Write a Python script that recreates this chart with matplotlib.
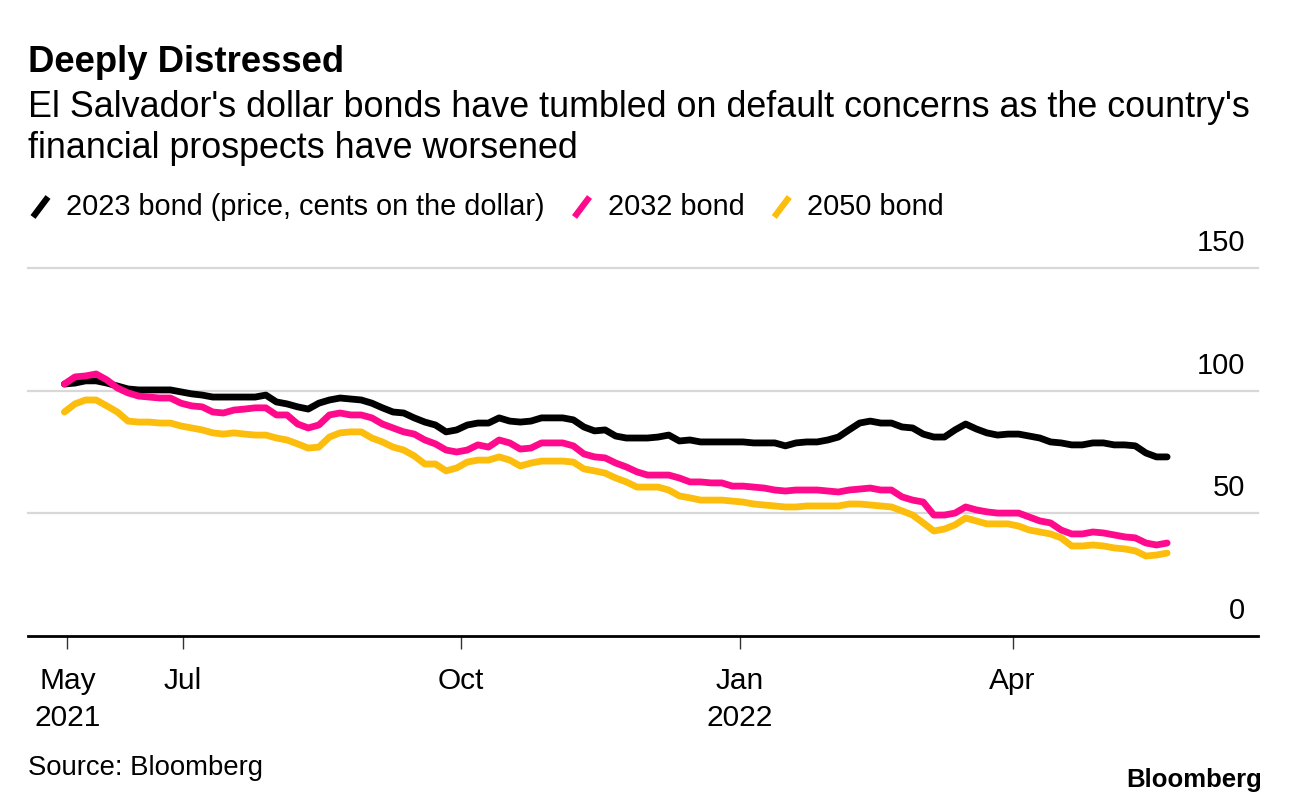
import matplotlib
matplotlib.use("Agg")
import matplotlib.pyplot as plt
from matplotlib.lines import Line2D
import pandas as pd

plt.rcParams['font.family'] = ['Liberation Sans', 'DejaVu Sans']

# twice-weekly readings, cents on the dollar
dates = pd.date_range('2021-05-23', periods=105, freq='84h')
bond_2023 = [102.7, 103.1, 104.0, 104.0, 103.1, 101.9, 100.7, 100.3, 100.3, 100.3,
             100.3, 99.5, 98.7, 98.2, 97.4, 97.4, 97.4, 97.4, 97.4, 98.2,
             95.4, 94.6, 93.4, 92.5, 94.9, 96.2, 97.0, 96.6, 96.2, 94.9,
             93.0, 91.3, 90.9, 88.9, 87.2, 86.0, 83.2, 84.0, 86.0, 86.8,
             86.8, 88.9, 87.6, 87.2, 87.6, 88.9, 88.9, 88.9, 88.1, 85.2,
             83.6, 84.0, 81.5, 80.7, 80.7, 80.7, 81.1, 81.9, 79.5, 79.9,
             79.1, 79.1, 79.1, 79.1, 79.1, 78.7, 78.7, 78.7, 77.5, 78.7,
             79.1, 79.1, 79.9, 81.1, 84.0, 86.8, 87.6, 86.8, 86.8, 85.2,
             84.8, 82.3, 81.1, 81.1, 84.0, 86.4, 84.4, 82.8, 81.9, 82.3,
             82.3, 81.5, 80.7, 79.1, 78.7, 77.9, 77.9, 78.7, 78.7, 77.9,
             77.9, 77.5, 74.6, 73.0, 73.0]
bond_2032 = [102.7, 105.6, 106.0, 106.8, 104.4, 101.1, 99.1, 97.8, 97.4, 97.0,
             97.0, 94.9, 93.8, 93.4, 91.3, 90.9, 92.1, 92.5, 93.0, 93.0,
             90.1, 90.1, 86.4, 84.8, 86.0, 90.1, 90.9, 90.1, 90.1, 88.9,
             86.4, 84.8, 83.2, 82.3, 79.9, 78.3, 75.8, 75.0, 75.8, 77.9,
             77.0, 79.9, 78.7, 76.2, 76.6, 78.7, 78.7, 78.7, 77.5, 74.2,
             73.0, 72.6, 70.5, 68.9, 66.9, 65.6, 65.6, 65.6, 64.4, 62.8,
             62.8, 62.4, 62.4, 61.1, 61.1, 60.7, 60.3, 59.5, 59.1, 59.5,
             59.5, 59.5, 59.1, 58.7, 59.5, 59.9, 60.3, 59.5, 59.5, 56.7,
             55.4, 54.6, 49.3, 49.3, 50.1, 52.6, 51.4, 50.6, 50.1, 50.1,
             50.1, 48.5, 46.9, 46.1, 43.2, 41.6, 41.6, 42.4, 42.0, 41.2,
             40.4, 40.0, 37.9, 37.1, 37.9]
bond_2050 = [91.3, 94.6, 96.2, 96.2, 93.8, 91.3, 87.6, 87.2, 87.2, 86.8,
             86.8, 85.6, 84.8, 84.0, 82.8, 82.3, 82.8, 82.3, 81.9, 81.9,
             80.7, 79.9, 78.3, 76.6, 77.0, 81.1, 82.8, 83.2, 83.2, 80.7,
             79.1, 77.0, 75.8, 73.4, 70.1, 70.1, 67.3, 68.5, 70.9, 71.7,
             71.7, 73.0, 71.7, 69.3, 70.5, 71.3, 71.3, 71.3, 70.9, 68.1,
             67.3, 66.4, 64.4, 62.8, 60.7, 60.7, 60.7, 59.5, 57.1, 56.3,
             55.4, 55.4, 55.4, 55.0, 54.6, 53.8, 53.4, 53.0, 52.6, 52.6,
             53.0, 53.0, 53.0, 53.0, 53.8, 53.8, 53.4, 53.0, 52.6, 51.0,
             49.3, 46.1, 42.8, 43.6, 45.3, 48.1, 46.9, 45.7, 45.7, 45.7,
             44.8, 43.2, 42.4, 41.6, 40.0, 36.7, 36.7, 37.1, 36.7, 35.9,
             35.5, 34.7, 32.6, 33.0, 33.8]

series_names = ['2023 bond (price, cents on the dollar)', '2032 bond', '2050 bond']
series_colors = ['#000000', '#ff0a8c', '#fdbd0d']

tick_dates = pd.to_datetime(['2021-05-24', '2021-07-01', '2021-10-01', '2022-01-01', '2022-04-01'])
tick_labels = ['May\n2021', 'Jul', 'Oct', 'Jan\n2022', 'Apr']
y_levels = [0, 50, 100, 150]

W, H = 1292, 806
fig = plt.figure(figsize=(W / 100, H / 100), dpi=100)
ax = fig.add_axes([28 / W, 1 - 636 / H, 1230 / W, (636 - 268) / H])

for v in y_levels[1:]:
    ax.axhline(v, color='#d8d8d8', lw=1.6, zorder=1, clip_on=False)

for vals, col in zip([bond_2023, bond_2032, bond_2050], series_colors):
    ax.plot(dates, vals, color=col, lw=4.9, solid_joinstyle='round',
            solid_capstyle='round', zorder=3)

ax.set_ylim(0, 150)
ax.set_xlim(pd.Timestamp('2021-05-11'), pd.Timestamp('2022-06-21'))
ax.set_yticks([])
for s in ['top', 'right', 'left']:
    ax.spines[s].set_visible(False)
ax.spines['bottom'].set_linewidth(2)
ax.spines['bottom'].set_zorder(4)

ax.set_xticks(tick_dates)
ax.set_xticklabels(tick_labels, fontsize=21.5, linespacing=1.42)
ax.tick_params(axis='x', length=9, width=1, color='#333333', pad=13)

# value labels sit just above the gridlines on the right
for v in y_levels:
    ax.annotate(str(v), xy=(0.9895, v), xycoords=ax.get_yaxis_transform(),
                xytext=(0, 8), textcoords='offset points',
                ha='right', va='bottom', fontsize=21)

fig.text(28 / W, 1 - 62 / H, 'Deeply Distressed', fontsize=26.3, fontweight='bold',
         va='center', ha='left')
fig.text(28 / W, 1 - 128 / H,
         "El Salvador's dollar bonds have tumbled on default concerns as the country's\n"
         "financial prospects have worsened",
         fontsize=25.8, va='center', ha='left', linespacing=1.2)

# legend with slash markers
fig.canvas.draw()
renderer = fig.canvas.get_renderer()
x = 33
ly = 1 - 207 / H
for name, col in zip(series_names, series_colors):
    fig.add_artist(Line2D([x / W, (x + 15) / W], [ly - 10 / H, ly + 10 / H],
                          color=col, lw=4.5, solid_capstyle='butt'))
    t = fig.text((x + 33) / W, ly, name, fontsize=20.8, va='center', ha='left')
    bb = t.get_window_extent(renderer)
    x = bb.x1 + 30

fig.text(28 / W, 1 - 768 / H, 'Source: Bloomberg', fontsize=19.8, va='center', ha='left')
fig.text(1262 / W, 1 - 780 / H, 'Bloomberg', fontsize=18.5, fontweight='bold',
         va='center', ha='right')

fig.savefig('out.png', dpi=100)
